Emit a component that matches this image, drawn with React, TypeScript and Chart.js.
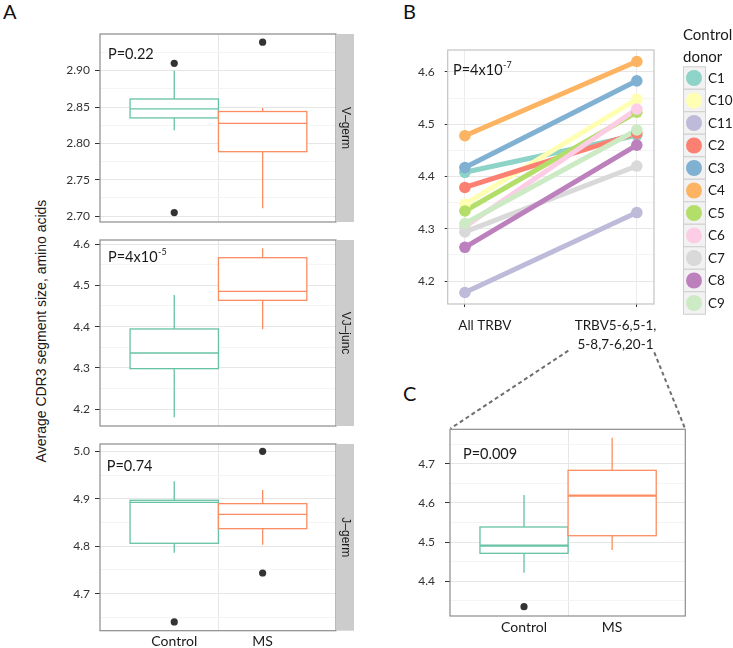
import React, { useEffect, useRef } from 'react';
import { Chart, registerables } from 'chart.js';
Chart.register(...registerables);

const FONT = 'Lato, "Open Sans", sans-serif';
const ARIAL = '"Liberation Sans", Arial, sans-serif';

// ---------- DATA ----------
const groupLabels = ['Control', 'MS'];
const groupColors = ['#66c2a5', '#fc8d62'];

// box stats: [lower whisker, Q1, median, Q3, upper whisker]
const vGermControl = [2.818, 2.835, 2.8475, 2.861, 2.9];
const vGermMS = [2.711, 2.7886, 2.8274, 2.8438, 2.8485];
const vGermOutControl = [2.91, 2.705];
const vGermOutMS = [2.939];
const vGermTicks = [2.7, 2.75, 2.8, 2.85, 2.9];

const vjJuncControl = [4.1806, 4.2984, 4.3363, 4.3944, 4.4766];
const vjJuncMS = [4.3936, 4.4637, 4.4855, 4.5669, 4.5895];
const vjJuncOutControl: number[] = [];
const vjJuncOutMS: number[] = [];
const vjJuncTicks = [4.2, 4.3, 4.4, 4.5, 4.6];

const jGermControl = [4.7864, 4.8062, 4.8926, 4.8968, 4.9368];
const jGermMS = [4.8033, 4.837, 4.8673, 4.8897, 4.9185];
const jGermOutControl = [4.6404];
const jGermOutMS = [5.0, 4.7436];
const jGermTicks = [4.7, 4.8, 4.9, 5.0];

const subsetControl = [4.422, 4.4714, 4.4908, 4.5385, 4.6202];
const subsetMS = [4.4798, 4.5163, 4.6184, 4.6831, 4.7663];
const subsetOutControl = [4.3352];
const subsetOutMS: number[] = [];
const subsetTicks = [4.4, 4.5, 4.6, 4.7];

const donors = ['C1', 'C10', 'C11', 'C2', 'C3', 'C4', 'C5', 'C6', 'C7', 'C8', 'C9'];
const donorColors = ['#8dd3c7', '#ffffb3', '#bebada', '#fb8072', '#80b1d3', '#fdb462', '#b3de69', '#fccde5', '#d9d9d9', '#bc80bd', '#ccebc5'];
const allTrbv = [4.408, 4.347, 4.178, 4.379, 4.417, 4.478, 4.334, 4.304, 4.294, 4.2645, 4.31];
const subsetTrbv = [4.479, 4.548, 4.331, 4.483, 4.583, 4.62, 4.523, 4.529, 4.42, 4.46, 4.489];
const donorTicks = [4.2, 4.3, 4.4, 4.5, 4.6];
const donorCategories: (string | string[])[] = ['All TRBV', ['TRBV5-6,5-1,', '5-8,7-6,20-1']];

// ---------- helpers ----------
const near = (a: number, b: number) => Math.abs(a - b) < 1e-6;
const isMajor = (majors: number[], v: number) => majors.some((m) => near(m, v));
function withMinors(majors: number[], min: number, max: number) {
  const step = majors[1] - majors[0];
  const out: number[] = [];
  for (let k = -4; k <= majors.length * 2 + 4; k++) {
    const v = majors[0] + (k * step) / 2;
    if (v >= min - 1e-9 && v <= max + 1e-9) out.push(+v.toFixed(6));
  }
  return out;
}

function framePlugin(color: string, width: number) {
  return {
    id: 'frame',
    afterDraw(chart: any) {
      const { ctx, chartArea: a } = chart;
      ctx.save();
      ctx.strokeStyle = color;
      ctx.lineWidth = width;
      ctx.strokeRect(a.left, a.top, a.right - a.left, a.bottom - a.top);
      ctx.restore();
    },
  };
}

function pTextPlugin(text: string, sup: string, dx: number, dy: number) {
  return {
    id: 'ptext',
    afterDraw(chart: any) {
      const { ctx, chartArea: a } = chart;
      ctx.save();
      ctx.fillStyle = '#1a1a1a';
      ctx.textBaseline = 'middle';
      ctx.textAlign = 'left';
      ctx.font = `14.5px ${FONT}`;
      const x = a.left + dx;
      const y = a.top + dy;
      ctx.fillText(text, x, y);
      if (sup) {
        const w = ctx.measureText(text).width;
        ctx.font = `9px ${FONT}`;
        ctx.fillText(sup, x + w + 0.5, y - 6);
      }
      ctx.restore();
    },
  };
}

function stripPlugin(label: string) {
  return {
    id: 'strip',
    afterDraw(chart: any) {
      const { ctx, chartArea: a } = chart;
      ctx.save();
      ctx.fillStyle = '#cccccc';
      ctx.fillRect(a.right, a.top, 18, a.bottom - a.top);
      ctx.translate(a.right + 9, (a.top + a.bottom) / 2);
      ctx.rotate(Math.PI / 2);
      ctx.fillStyle = '#1a1a1a';
      ctx.font = `12px ${ARIAL}`;
      ctx.textAlign = 'center';
      ctx.textBaseline = 'middle';
      ctx.fillText(label, 0, 0);
      ctx.restore();
    },
  };
}

function boxPlugin(stats: number[][], medianWidth: number) {
  return {
    id: 'boxes',
    beforeDatasetsDraw(chart: any) {
      const { ctx } = chart;
      const x = chart.scales.x;
      const y = chart.scales.y;
      stats.forEach((s, i) => {
        const cx = x.getPixelForValue(i + 1);
        const x0 = x.getPixelForValue(i + 0.5);
        const x1 = x.getPixelForValue(i + 1.5);
        const [lo, q1, med, q3, hi] = s.map((v) => y.getPixelForValue(v));
        ctx.save();
        ctx.strokeStyle = groupColors[i];
        ctx.lineWidth = 1.3;
        ctx.beginPath();
        ctx.moveTo(cx, hi);
        ctx.lineTo(cx, q3);
        ctx.moveTo(cx, q1);
        ctx.lineTo(cx, lo);
        ctx.stroke();
        ctx.fillStyle = '#ffffff';
        ctx.fillRect(x0, q3, x1 - x0, q1 - q3);
        ctx.strokeRect(x0, q3, x1 - x0, q1 - q3);
        ctx.lineWidth = medianWidth;
        ctx.beginPath();
        ctx.moveTo(x0, med);
        ctx.lineTo(x1, med);
        ctx.stroke();
        ctx.restore();
      });
    },
  };
}

function yScale(majors: number[], min: number, max: number, dec: number, L: number, tickLen: number, pad: number) {
  return {
    type: 'linear',
    min,
    max,
    afterBuildTicks: (s: any) => {
      s.ticks = withMinors(majors, min, max).map((v) => ({ value: v }));
    },
    afterFit: (s: any) => {
      s.width = L;
    },
    ticks: {
      autoSkip: false,
      callback: (v: number) => (isMajor(majors, v) ? v.toFixed(dec) : ''),
      font: { family: FONT, size: 12 },
      color: '#333333',
      padding: pad,
    },
    grid: {
      color: (c: any) => (c.tick && isMajor(majors, c.tick.value) ? '#e6e6e6' : '#f4f4f4'),
      tickColor: (c: any) => (c.tick && isMajor(majors, c.tick.value) ? '#333333' : 'rgba(0,0,0,0)'),
      tickLength: tickLen,
      lineWidth: 1,
    },
    border: { display: false },
  };
}

interface BoxOpts {
  control: number[];
  ms: number[];
  outControl: number[];
  outMS: number[];
  majors: number[];
  min: number;
  max: number;
  dec: number;
  L: number;
  T: number;
  R: number;
  B: number;
  showX: boolean;
  xPad: number;
  p: string;
  sup: string;
  pdx: number;
  pdy: number;
  strip?: string;
  medianWidth: number;
  tickLen: number;
  tickPad: number;
}

function boxConfig(o: BoxOpts): any {
  const pts = [
    ...o.outControl.map((v) => ({ x: 1, y: v })),
    ...o.outMS.map((v) => ({ x: 2, y: v })),
  ];
  const plugins: any[] = [boxPlugin([o.control, o.ms], o.medianWidth), framePlugin('#8c8c8c', 1.2), pTextPlugin(o.p, o.sup, o.pdx, o.pdy)];
  if (o.strip) plugins.push(stripPlugin(o.strip));
  return {
    type: 'scatter',
    data: {
      datasets: [
        {
          data: pts,
          pointRadius: 3.6,
          pointBackgroundColor: '#333333',
          pointBorderWidth: 0,
          clip: false,
        },
      ],
    },
    options: {
      animation: false,
      responsive: false,
      devicePixelRatio: 1,
      layout: { padding: { left: 0, top: o.T, right: o.R, bottom: 0 }, autoPadding: false },
      plugins: { legend: { display: false }, tooltip: { enabled: false } },
      events: [],
      scales: {
        x: {
          type: 'linear',
          min: 0.16,
          max: 2.83,
          afterBuildTicks: (s: any) => {
            s.ticks = [1, 1.5, 2].map((v) => ({ value: v }));
          },
          afterFit: (s: any) => {
            s.height = o.B;
          },
          ticks: {
            display: o.showX,
            autoSkip: false,
            maxRotation: 0,
            callback: (v: number) => (near(v, 1) ? groupLabels[0] : near(v, 2) ? groupLabels[1] : ''),
            font: { family: FONT, size: 14 },
            color: '#1a1a1a',
            padding: o.xPad,
          },
          grid: {
            color: (c: any) => (c.tick && near(c.tick.value, 1.5) ? '#e6e6e6' : 'rgba(0,0,0,0)'),
            drawTicks: false,
          },
          border: { display: false },
        },
        y: yScale(o.majors, o.min, o.max, o.dec, o.L, o.tickLen, o.tickPad),
      },
    },
    plugins,
  };
}

function legendPlugin() {
  return {
    id: 'donorLegend',
    afterDraw(chart: any) {
      const { ctx } = chart;
      const x0 = 313;
      ctx.save();
      ctx.fillStyle = '#1a1a1a';
      ctx.textAlign = 'left';
      ctx.textBaseline = 'middle';
      ctx.font = `15px ${FONT}`;
      ctx.fillText('Control', x0, 35);
      ctx.fillText('donor', x0, 57);
      donors.forEach((d, i) => {
        const yc = 78 + i * 22.5;
        ctx.fillStyle = '#f2f2f2';
        ctx.fillRect(x0, yc - 11.25, 22, 22.5);
        ctx.strokeStyle = '#cfcfcf';
        ctx.lineWidth = 1;
        ctx.strokeRect(x0 + 0.5, yc - 11.25, 22, 22.5);
        ctx.fillStyle = donorColors[i];
        ctx.beginPath();
        ctx.arc(x0 + 11, yc, 8, 0, Math.PI * 2);
        ctx.fill();
        ctx.fillStyle = '#1a1a1a';
        ctx.font = `13.5px ${FONT}`;
        ctx.fillText(d, x0 + 25, yc + 0.5);
      });
      ctx.restore();
    },
  };
}

function donorConfig(): any {
  const L = 77.7;
  const T = 50;
  const R = 79;
  const B = 56;
  const lineSets = donors.map((d, i) => ({
    label: d,
    data: [
      { x: 1, y: allTrbv[i] },
      { x: 2, y: subsetTrbv[i] },
    ],
    showLine: true,
    borderColor: donorColors[i],
    borderWidth: 5,
    pointRadius: 0,
    clip: false,
  }));
  const pointSets = donors.map((d, i) => ({
    label: d,
    data: [
      { x: 1, y: allTrbv[i] },
      { x: 2, y: subsetTrbv[i] },
    ],
    showLine: false,
    pointRadius: 5.8,
    pointBackgroundColor: donorColors[i],
    pointBorderWidth: 0,
    clip: false,
  }));
  const seq = [...lineSets, ...pointSets].map((ds, k) => ({ ...ds, order: 100 - k }));
  const xTicks = [1, 1.116, 1.876, 2];
  const isCat = (v: number) => near(v, 1) || near(v, 2);
  return {
    type: 'scatter',
    data: { datasets: seq },
    options: {
      animation: false,
      responsive: false,
      devicePixelRatio: 1,
      layout: { padding: { left: 0, top: T, right: R, bottom: 0 }, autoPadding: false },
      plugins: { legend: { display: false }, tooltip: { enabled: false } },
      events: [],
      scales: {
        x: {
          type: 'linear',
          min: 0.9,
          max: 2.1,
          afterBuildTicks: (s: any) => {
            s.ticks = xTicks.map((v) => ({ value: v }));
          },
          afterFit: (s: any) => {
            s.height = B;
          },
          ticks: {
            autoSkip: false,
            maxRotation: 0,
            callback: (v: number) => (near(v, 1.116) ? donorCategories[0] : near(v, 1.876) ? donorCategories[1] : ''),
            font: { family: FONT, size: 13.5, lineHeight: 1.4 },
            color: '#1a1a1a',
            padding: 9,
          },
          grid: {
            color: (c: any) => (c.tick && isCat(c.tick.value) ? '#ececec' : 'rgba(0,0,0,0)'),
            tickColor: (c: any) => (c.tick && isCat(c.tick.value) ? '#333333' : 'rgba(0,0,0,0)'),
            tickLength: 3,
          },
          border: { display: false },
        },
        y: yScale(donorTicks, 4.156, 4.642, 1, L, 3, 10),
      },
    },
    plugins: [framePlugin('#c4c4c4', 1.2), pTextPlugin('P=4x10', '-7', 5.3, 20.7), legendPlugin()],
  };
}

function ChartBox(props: { left: number; top: number; width: number; height: number; make: () => any }) {
  const ref = useRef<HTMLCanvasElement>(null);
  useEffect(() => {
    const chart = new Chart(ref.current as HTMLCanvasElement, props.make());
    return () => chart.destroy();
  }, []);
  const { left, top, width, height } = props;
  return (
    <div style={{ position: 'absolute', left, top, width, height }}>
      <canvas ref={ref} width={width} height={height} style={{ width, height, display: 'block' }} />
    </div>
  );
}

const letterStyle: React.CSSProperties = {
  position: 'absolute',
  fontFamily: FONT,
  fontSize: 20,
  lineHeight: '20px',
  color: '#111',
};

export default function App() {
  return (
    <div style={{ position: 'absolute', left: 0, top: 0, width: 733, height: 648, background: '#fff', overflow: 'hidden' }}>
      <div style={{ ...letterStyle, left: 3, top: 1 }}>A</div>
      <div style={{ ...letterStyle, left: 403, top: 1 }}>B</div>
      <div style={{ ...letterStyle, left: 403, top: 383 }}>C</div>
      <div
        style={{
          position: 'absolute',
          left: 41 - 160,
          top: 331 - 9,
          width: 320,
          height: 18,
          lineHeight: '18px',
          textAlign: 'center',
          fontFamily: ARIAL,
          fontSize: 14,
          color: '#1a1a1a',
          transform: 'rotate(-90deg)',
          whiteSpace: 'nowrap',
        }}
      >
        Average CDR3 segment size, amino acids
      </div>
      <ChartBox
        left={0}
        top={0}
        width={370}
        height={240}
        make={() =>
          boxConfig({
            control: vGermControl, ms: vGermMS, outControl: vGermOutControl, outMS: vGermOutMS,
            majors: vGermTicks, min: 2.692, max: 2.9503, dec: 2, L: 100, T: 34, R: 34, B: 18,
            showX: false, xPad: 2, p: 'P=0.22', sup: '', pdx: 8, pdy: 20, strip: 'V–germ',
            medianWidth: 1.3, tickLen: 5, tickPad: 5,
          })
        }
      />
      <ChartBox
        left={0}
        top={222}
        width={370}
        height={222}
        make={() =>
          boxConfig({
            control: vjJuncControl, ms: vjJuncMS, outControl: vjJuncOutControl, outMS: vjJuncOutMS,
            majors: vjJuncTicks, min: 4.1596, max: 4.6097, dec: 1, L: 100, T: 18, R: 34, B: 18,
            showX: false, xPad: 2, p: 'P=4x10', sup: '-5', pdx: 8, pdy: 17.7, strip: 'VJ–junc',
            medianWidth: 1.3, tickLen: 5, tickPad: 5,
          })
        }
      />
      <ChartBox
        left={0}
        top={426}
        width={370}
        height={222}
        make={() =>
          boxConfig({
            control: jGermControl, ms: jGermMS, outControl: jGermOutControl, outMS: jGermOutMS,
            majors: jGermTicks, min: 4.622, max: 5.0154, dec: 1, L: 100, T: 18, R: 34, B: 17.3,
            showX: true, xPad: 2, p: 'P=0.74', sup: '', pdx: 6.7, pdy: 22.7, strip: 'J–germ',
            medianWidth: 1.3, tickLen: 5, tickPad: 5,
          })
        }
      />
      <ChartBox left={370} top={0} width={363} height={360} make={donorConfig} />
      <ChartBox
        left={370}
        top={400}
        width={363}
        height={248}
        make={() =>
          boxConfig({
            control: subsetControl, ms: subsetMS, outControl: subsetOutControl, outMS: subsetOutMS,
            majors: subsetTicks, min: 4.3115, max: 4.7877, dec: 1, L: 80, T: 29.3, R: 47.7, B: 32,
            showX: true, xPad: 3, p: 'P=0.009', sup: '', pdx: 13, pdy: 24.7,
            medianWidth: 2.2, tickLen: 5, tickPad: 10,
          })
        }
      />
      <svg width={733} height={648} style={{ position: 'absolute', left: 0, top: 0, pointerEvents: 'none' }}>
        <line x1={568.3} y1={350.7} x2={450.5} y2={428.5} stroke="#6e6e6e" strokeWidth={2} strokeDasharray="4 3" />
        <line x1={654.3} y1={352.3} x2={685} y2={428.5} stroke="#6e6e6e" strokeWidth={2} strokeDasharray="4 3" />
      </svg>
    </div>
  );
}
